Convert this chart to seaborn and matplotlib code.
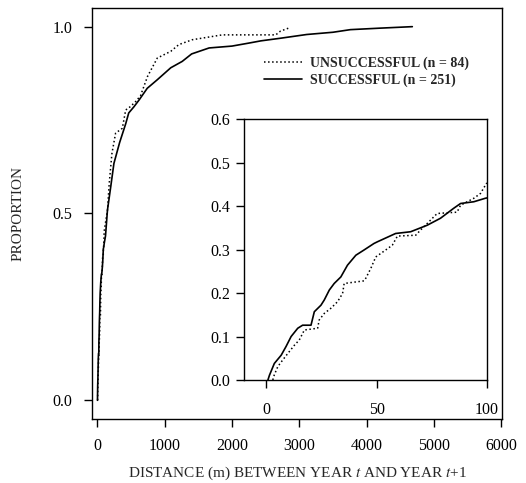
import matplotlib
matplotlib.use("Agg")
import matplotlib.pyplot as plt
import seaborn as sns

# cumulative proportion vs distance
succ_dist = [0.8, 1.5, 3.7, 6.8, 9.0, 11.3, 14.3, 16.5, 20.3, 21.8, 24.8, 26.3, 28.6,
             30.8, 33.8, 36.8, 40.6, 44.3, 48.8, 50.4, 58.6, 65.4, 72.9, 78.9, 84.9,
             88.0, 94.0, 99.2, 120, 149, 198, 245, 330, 420, 465, 540, 620, 740, 890,
             1090, 1260, 1400, 1660, 2000, 2250, 2430, 2720, 3110, 3500, 3760, 4200, 4680]
succ_prop = [0.0, 0.011, 0.038, 0.057, 0.077, 0.100, 0.119, 0.126, 0.126, 0.157, 0.172,
             0.184, 0.207, 0.222, 0.237, 0.264, 0.287, 0.299, 0.314, 0.318, 0.337, 0.341,
             0.356, 0.372, 0.395, 0.406, 0.410, 0.418, 0.44, 0.509, 0.572, 0.634, 0.69,
             0.74, 0.769, 0.785, 0.804, 0.835, 0.858, 0.89, 0.907, 0.927, 0.943, 0.948,
             0.956, 0.962, 0.969, 0.979, 0.985, 0.992, 0.996, 1.0]

unsucc_dist = [3.0, 3.7, 5.3, 7.5, 9.8, 12.8, 15.0, 17.3, 23.3, 24.0, 26.3, 29.3, 32.3,
               34.6, 35.3, 44.3, 45.1, 47.4, 49.6, 54.1, 57.1, 59.4, 67.7, 69.9, 72.9,
               77.4, 86.4, 88.0, 94.0, 97.0, 99.7, 150, 175, 215, 270, 370, 420, 490,
               570, 640, 745, 890, 1090, 1210, 1410, 1855, 2650, 2720, 2840, 2850]
unsucc_prop = [0.0, 0.012, 0.031, 0.046, 0.061, 0.080, 0.092, 0.115, 0.119, 0.138, 0.153,
               0.165, 0.180, 0.199, 0.222, 0.228, 0.234, 0.257, 0.283, 0.299, 0.310,
               0.331, 0.333, 0.345, 0.360, 0.383, 0.386, 0.402, 0.418, 0.429, 0.452,
               0.51, 0.58, 0.66, 0.715, 0.728, 0.777, 0.786, 0.80, 0.815, 0.867, 0.916,
               0.934, 0.952, 0.965, 0.978, 0.978, 0.988, 0.996, 1.0]

labels = ["UNSUCCESSFUL (n = 84)", "SUCCESSFUL (n = 251)"]

sns.set_style("ticks")
plt.rcParams['font.family'] = ['Liberation Serif', 'DejaVu Serif']
plt.rcParams['mathtext.fontset'] = 'stix'

fig = plt.figure(figsize=(5.26, 4.83), dpi=100)
ax = fig.add_axes([0.175, 0.1325, 0.779, 0.851])
ins = fig.add_axes([0.464, 0.2133, 0.462, 0.540])

for a in (ax, ins):
    sns.lineplot(x=unsucc_dist, y=unsucc_prop, ax=a, color='black', linestyle=':',
                 linewidth=1.1, estimator=None, sort=False, label=labels[0])
    sns.lineplot(x=succ_dist, y=succ_prop, ax=a, color='black', linestyle='-',
                 linewidth=1.2, estimator=None, sort=False, label=labels[1])
    for s in a.spines.values():
        s.set_visible(True)
        s.set_linewidth(1.0)
        s.set_color('black')
    a.tick_params(direction='out', length=6, width=1.0, colors='black',
                  labelsize=11.5, pad=8)

ax.set_xlim(-80, 6010)
ax.set_ylim(-0.05, 1.05)
ax.set_xticks([0, 1000, 2000, 3000, 4000, 5000, 6000])
ax.set_yticks([0.0, 0.5, 1.0])
ax.set_yticklabels(["0.0", "0.5", "1.0"])
ax.set_xlabel(r"DISTANCE (m) BETWEEN YEAR $\it{t}$ AND YEAR $\it{t}$+1", fontsize=11, labelpad=7)
ax.set_ylabel("PROPORTION", fontsize=11, labelpad=20)
ax.legend(loc='upper left', bbox_to_anchor=(0.39, 0.912), frameon=False,
          handlelength=2.7, handletextpad=0.6, labelspacing=0.25,
          prop={'weight': 'bold', 'size': 10})

ins.set_xlim(-10, 100)
ins.set_ylim(0, 0.6)
ins.set_xticks([0, 50, 100])
ins.set_yticks([0.0, 0.1, 0.2, 0.3, 0.4, 0.5, 0.6])
ins.set_yticklabels(["0.0", "0.1", "0.2", "0.3", "0.4", "0.5", "0.6"])
ins.tick_params(axis='x', pad=10)
ins.tick_params(axis='y', pad=4)
ins.set_xlabel("")
ins.set_ylabel("")
ins.get_legend().remove()

fig.savefig("out.png", dpi=100)
